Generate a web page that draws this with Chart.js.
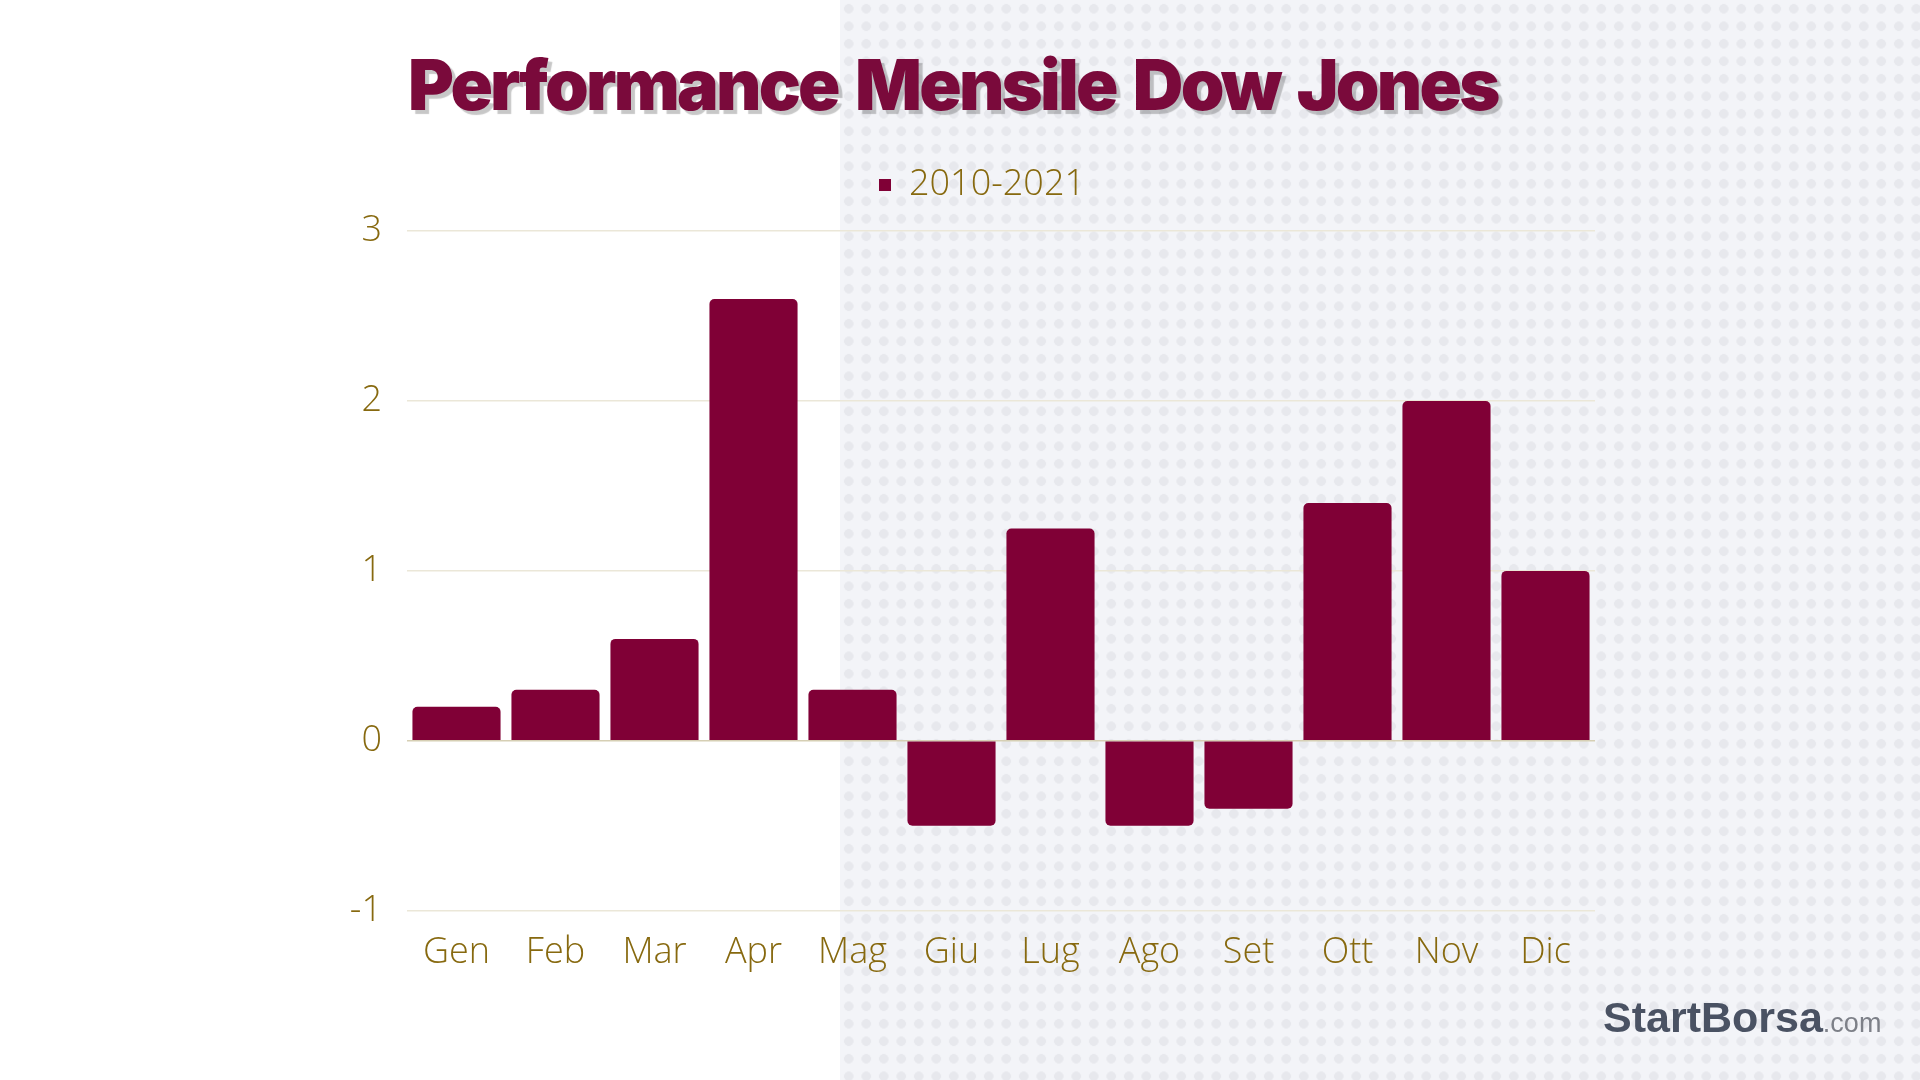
<!DOCTYPE html>
<html>
<head>
<meta charset="utf-8">
<script src="https://cdn.jsdelivr.net/npm/chart.js@4.4.1/dist/chart.umd.min.js"></script>
<style>
    html, body {
        margin: 0;
        padding: 0;
        width: 1920px;
        height: 1080px;
        overflow: hidden;
        background: #ffffff;
    }
    .panel {
        position: absolute;
        left: 840px;
        top: 0;
        width: 1080px;
        height: 1080px;
        background-color: #f3f4f8;
        background-image: radial-gradient(circle, #e7e8ed 4.5px, transparent 5px);
        background-size: 17.5px 17.5px;
    }
    .title {
        position: absolute;
        left: 408px;
        top: 42px;
        margin: 0;
        font-family: Inter, "DejaVu Sans", sans-serif;
        font-weight: 900;
        font-size: 70px;
        letter-spacing: -2.75px;
        word-spacing: 6px;
        color: #7a0a3b;
        text-shadow: 4px 4px 1px rgba(0, 0, 0, 0.22);
        white-space: nowrap;
    }
    .logo {
        position: absolute;
        left: 1603px;
        top: 993px;
        font-family: "Liberation Sans", Arial, sans-serif;
        font-weight: bold;
        font-size: 43px;
        color: #4a5263;
        white-space: nowrap;
    }
    .logo span {
        font-weight: normal;
        font-size: 27px;
        color: #7d8088;
    }
    #chartWrap {
        position: absolute;
        left: 0;
        top: 0;
        width: 1920px;
        height: 1080px;
    }
</style>
</head>
<body>
<div class="panel"></div>
<h1 class="title">Performance Mensile Dow Jones</h1>
<div id="chartWrap"><canvas id="monthlyChart"></canvas></div>
<div class="logo">StartBorsa<span>.com</span></div>

<script>
    const months = ['Gen', 'Feb', 'Mar', 'Apr', 'Mag', 'Giu', 'Lug', 'Ago', 'Set', 'Ott', 'Nov', 'Dic'];
    const seriesLabel = '2010-2021';
    const avgReturn = [0.2, 0.3, 0.6, 2.6, 0.3, -0.5, 1.25, -0.5, -0.4, 1.4, 2.0, 1.0];
    const yTicks = [-1, 0, 1, 2, 3];

    const barColor = '#800036';
    const tickColor = '#87690f';

    // extra room under the legend, and nudge it a bit to the right
    const legendSpacing = {
        id: 'legendSpacing',
        beforeInit(chart) {
            const originalFit = chart.legend.fit;
            chart.legend.fit = function fit() {
                originalFit.bind(chart.legend)();
                this.height += 18;
            };
        },
        afterLayout(chart) {
            chart.legend.left += 11;
            chart.legend.right += 11;
        }
    };

    const ctx = document.getElementById('monthlyChart').getContext('2d');

    new Chart(ctx, {
        type: 'bar',
        data: {
            labels: months,
            datasets: [
                {
                    label: seriesLabel,
                    data: avgReturn,
                    backgroundColor: barColor,
                    borderWidth: 0,
                    borderRadius: 5,
                    borderSkipped: 'start',
                    barPercentage: 0.89,
                    categoryPercentage: 1.0
                }
            ]
        },
        plugins: [legendSpacing],
        options: {
            responsive: true,
            maintainAspectRatio: false,
            animation: false,
            layout: {
                padding: {
                    left: 347,
                    right: 325,
                    top: 157,
                    bottom: 94
                }
            },
            plugins: {
                legend: {
                    position: 'top',
                    labels: {
                        boxWidth: 12,
                        boxHeight: 12,
                        color: tickColor,
                        padding: 10,
                        font: {
                            family: '"Open Sans"',
                            size: 36,
                            weight: '300'
                        }
                    }
                },
                title: { display: false },
                tooltip: { enabled: false }
            },
            scales: {
                x: {
                    grid: { display: false },
                    border: { display: false },
                    ticks: {
                        color: tickColor,
                        padding: 12,
                        font: {
                            family: '"Open Sans"',
                            size: 36,
                            weight: '300'
                        }
                    }
                },
                y: {
                    min: yTicks[0],
                    max: yTicks[yTicks.length - 1],
                    afterFit: function(scale) {
                        scale.width = 60;
                    },
                    afterBuildTicks: function(scale) {
                        scale.ticks = yTicks.map(v => ({ value: v }));
                    },
                    border: { display: false },
                    grid: {
                        drawTicks: false,
                        lineWidth: 1.5,
                        color: function(context) {
                            return context.tick && context.tick.value === 0 ? '#d6cfb4' : '#ebe7d8';
                        }
                    },
                    ticks: {
                        color: tickColor,
                        padding: 25,
                        font: {
                            family: '"Open Sans"',
                            size: 36,
                            weight: '300'
                        }
                    }
                }
            }
        }
    });
</script>
</body>
</html>
